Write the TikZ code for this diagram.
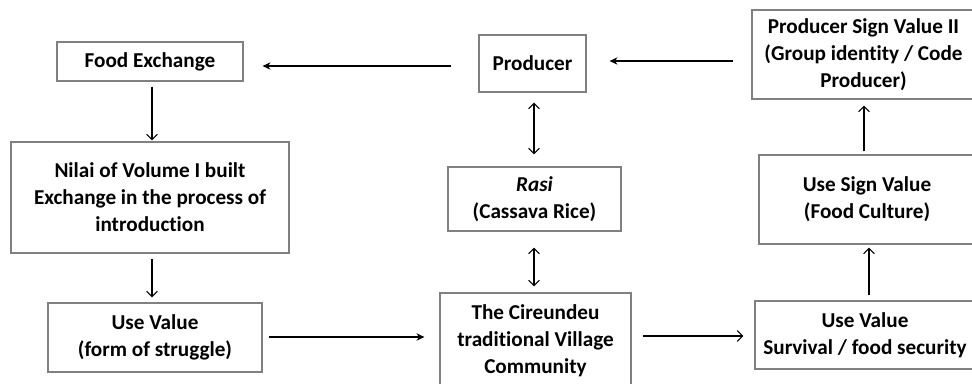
\documentclass[tikz,border=0pt]{standalone}
\usepackage{fontspec}
\setmainfont[Ligatures=NoCommon]{Carlito}
\usetikzlibrary{arrows.meta}
\definecolor{boxgray}{RGB}{128,128,128}
\newcommand{\px}{0.75pt}
\newcommand{\boxfont}{\bfseries\fontsize{15.9}{20.25}\selectfont}
\tikzset{
    box/.style={draw=boxgray, line width=0.8pt, align=center, inner sep=0pt, font=\boxfont},
    fillarrow/.style={line width=0.9pt, -{Stealth[length=6pt, width=5.5pt]}},
    openarrow/.style={line width=0.9pt, -{Straight Barb[length=4pt, width=8pt]}},
    bothway/.style={line width=0.9pt, {Straight Barb[length=4pt, width=8pt]}-{Straight Barb[length=4pt, width=8pt]}}
}
\begin{document}
\begin{tikzpicture}[x=0.75pt,y=-0.75pt]
    \useasboundingbox (0,0) rectangle (972,383);
    \clip (0,0) rectangle (972,383);

    % Left column
    \node[box, minimum width=186*\px, minimum height=39*\px] (food) at (150,61.5) {Food Exchange};
    \node[box, minimum width=278*\px, minimum height=111*\px] (nilai) at (150,197.5) {Nilai of Volume I built\\Exchange in the process of\\introduction};
    \node[box, minimum width=214*\px, minimum height=69*\px] (usel) at (155,337.5) {Use Value\\(form of struggle)};

    % Middle column
    \node[box, minimum width=107*\px, minimum height=57*\px] (prod) at (532.5,63.5) {Producer};
    \node[box, minimum width=173*\px, minimum height=64*\px] (rasi) at (534.5,199) {\textit{Rasi}\\(Cassava Rice)};
    \node[box, minimum width=191*\px, minimum height=96*\px] (cir) at (535.5,341) {The Cireundeu\\traditional Village\\Community};

    % Right column (cut at the right edge)
    \node[box, minimum width=223*\px, minimum height=89*\px] (signii) at (863.5,54.5) {Producer Sign Value II\\(Group identity / Code\\Producer)};
    \node[box, minimum width=216*\px, minimum height=89*\px] (usesign) at (867,199.5) {Use Sign Value\\(Food Culture)};
    \node[box, minimum width=220*\px, minimum height=68*\px] (user) at (865,335) {Use Value\\Survival / food security};

    % Connectors
    \draw[fillarrow] ([shift={(-27,2.5)}]prod.west) -- ([shift={(19,4.5)}]food.east);
    \draw[fillarrow] ([shift={(-18,6.5)}]signii.west) -- ([shift={(23,-2.5)}]prod.east);
    \draw[openarrow] ([shift={(2,5)}]food.south) -- ([shift={(2,-1)}]nilai.north);
    \draw[openarrow] ([shift={(2,5)}]nilai.south) -- ([shift={(-3,-5)}]usel.north);
    \draw[fillarrow] ([shift={(6,-0.5)}]usel.east) -- ([shift={(-15,-4)}]cir.west);
    \draw[bothway] ([shift={(1.5,10)}]prod.south) -- ([shift={(-0.5,-12)}]rasi.north);
    \draw[bothway] ([shift={(-0.5,16)}]rasi.south) -- ([shift={(-1.5,-6)}]cir.north);
    \draw[openarrow] ([shift={(11,-5)}]cir.east) -- ([shift={(-11,1)}]user.west);
    \draw[openarrow] ([shift={(4,-5)}]user.north) -- ([shift={(2,3)}]usesign.south);
    \draw[openarrow] ([shift={(-3,-3)}]usesign.north) -- ([shift={(0.5,6)}]signii.south);
\end{tikzpicture}
\end{document}
